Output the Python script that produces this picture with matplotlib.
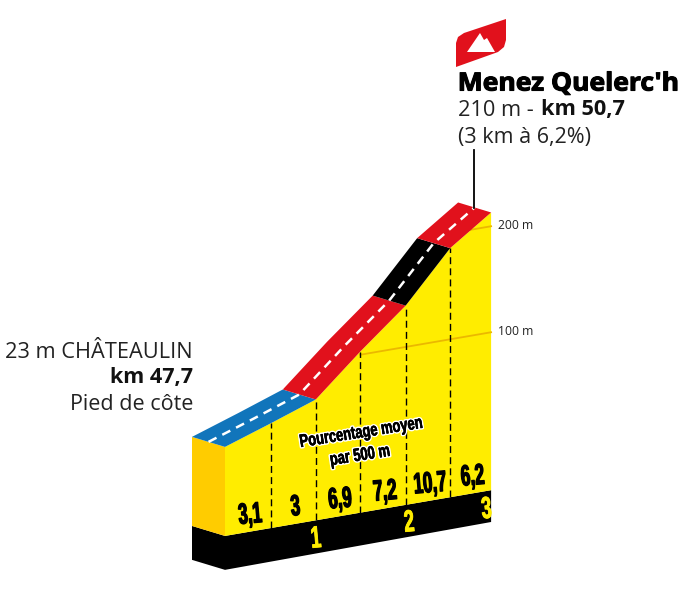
import matplotlib
matplotlib.use("Agg")
import matplotlib.pyplot as plt
import matplotlib.patheffects as pe
from matplotlib.patches import Polygon
from matplotlib.transforms import Affine2D
import numpy as np

# profile
km = [0, 0.52, 1.02, 1.52, 2.03, 2.53, 2.99]
elev = [35, 50, 65, 103, 139, 186, 213]
pct_labels = ["3,1", "3", "6,9", "7,2", "10,7", "6,2"]
km_marks = [1, 2, 3]
km_mark_pos = [1.02, 2.07, 2.94]
road_segments = [(0, 2, "#1175BB"), (2, 4, "#E1111C"), (4, 5, "#000000"), (5, 6, "#E1111C")]
alt_ticks = [100, 200]

YELLOW = "#FFED00"
BASE = -49
BOTTOM = -79
DEPTH = np.array([-33, -10])
BOLD = ["Liberation Sans", "DejaVu Sans"]
OPEN = ["Open Sans", "DejaVu Sans"]

# km/metres -> image pixels, slanted like the printed profile
proj = Affine2D.from_values(89, -15.3, 0, -1.06, 225, 484)


def pt(k, e):
    return proj.transform((k, e))


class Squeeze(pe.AbstractPathEffect):
    # no condensed font around, so narrow the glyphs of the text around their middle
    def __init__(self, sx, width=0, color=None):
        super().__init__()
        self.sx = sx
        self.width = width
        self.color = color

    def draw_path(self, renderer, gc, tpath, affine, rgbFace=None):
        ext = tpath.get_extents()
        cx = (ext.x0 + ext.x1) / 2
        narrow = Affine2D().translate(-cx, 0).scale(self.sx, 1).translate(cx, 0).transform_path(tpath)
        if self.width:
            gc0 = renderer.new_gc()
            gc0.copy_properties(gc)
            gc0.set_linewidth(self.width)
            gc0.set_foreground(self.color or rgbFace)
            renderer.draw_path(gc0, narrow, affine, rgbFace)
            gc0.restore()
        renderer.draw_path(gc, narrow, affine, rgbFace)


fig = plt.figure(figsize=(7, 5.9), dpi=100)
ax = fig.add_axes([0, 0, 1, 1])
ax.set_xlim(0, 700)
ax.set_ylim(590, 0)
ax.axis("off")

# black plinth
plinth = [pt(0, BASE) + DEPTH, pt(0, BASE), pt(km[-1], BASE), pt(km[-1], BOTTOM),
          pt(0, BOTTOM - 2), pt(0, BOTTOM - 2) + DEPTH]
plinth_patch = ax.add_patch(Polygon(plinth, fc="black", ec="none"))

# side face
side = [pt(0, elev[0]) + DEPTH, pt(0, elev[0]), pt(0, BASE), pt(0, BASE) + DEPTH]
ax.add_patch(Polygon(side, fc="#FFCC00", ec="none"))

# yellow front face
front = [pt(k, e) for k, e in zip(km, elev)] + [pt(km[-1], BASE), pt(0, BASE)]
ax.add_patch(Polygon(front, fc=YELLOW, ec="none"))

# altitude lines
for alt, start in zip(alt_ticks, [1.52, 2.75]):
    a, b = pt(start, alt), pt(km[-1], alt)
    ax.plot([a[0], b[0]], [a[1], b[1]], color="#EBB800", lw=1.3, zorder=2)
    ax.text(498, b[1] - 1, f"{alt} m", fontsize=8.7, family=OPEN, color="#222222", va="center")

# 500 m dashes
for k, e in zip(km[1:-1], elev[1:-1]):
    a, b = pt(k, BASE), pt(k, e)
    ax.plot([a[0], b[0]], [a[1], b[1]], color="black", lw=1, dashes=(5, 3), zorder=3)

# road
for i, j, col in road_segments:
    poly = [pt(k, e) for k, e in zip(km[i:j + 1], elev[i:j + 1])]
    poly += [p + DEPTH for p in poly[::-1]]
    ax.add_patch(Polygon(poly, fc=col, ec="none", zorder=4))
mid = np.array([pt(k, e) for k, e in zip(km, elev)]) + DEPTH / 2
ax.plot(mid[:, 0], mid[:, 1], color="white", lw=1.8, dashes=(3.6, 2.6), zorder=5)

# gradient numbers
for i, lab in enumerate(pct_labels):
    k = (km[i] + km[i + 1]) / 2
    x, y = pt(k, BASE + 16)
    ax.text(x + 2, y, lab, fontsize=21, family=BOLD, weight="bold", rotation=5,
            ha="center", va="center", color="black", zorder=6,
            path_effects=[Squeeze(0.58, 0.9)])

# km numbers on the plinth
for m, k in zip(km_marks, km_mark_pos):
    x, y = pt(k, BASE - 18)
    lab = ax.text(x, y, str(m), fontsize=22, family=BOLD, weight="bold", rotation=5,
                  ha="center", va="center", color=YELLOW, zorder=6,
                  path_effects=[Squeeze(0.6, 0.6)])
    lab.set_clip_path(plinth_patch)

for txt, x, y in [("Pourcentage moyen", 361, 433), ("par 500 m", 360, 456)]:
    ax.text(x, y, txt, fontsize=13, family=BOLD, weight="bold", rotation=9,
            ha="center", va="center", color="black", zorder=6,
            path_effects=[Squeeze(0.72, 2.4, "white"), Squeeze(0.72, 0.3)])

# start label
ax.text(193, 353, "23 m CHÂTEAULIN", fontsize=15.7, family=OPEN, ha="right", va="center", color="#222222")
ax.text(193, 378, "km 47,7", fontsize=15.5, family=OPEN, weight="bold", ha="right", va="center", color="#111111")
ax.text(193, 404, "Pied de côte", fontsize=15.5, family=OPEN, ha="right", va="center", color="#222222")

# summit pole, flag and label
ax.plot([474, 474], [150, 208], color="black", lw=1.3, zorder=7)
flag = [(456, 67), (456, 43), (458, 37), (464, 33), (506, 19), (506, 40), (504, 47), (498, 52)]
ax.add_patch(Polygon(flag, fc="#E1111C", ec="none"))
peak = [(467, 52), (480, 33), (484, 40), (487, 38), (495, 52)]
ax.add_patch(Polygon(peak, fc="white", ec="none"))
ax.text(464, 84, "Menez Quelerc'h", fontsize=18, family=OPEN, weight="bold", va="center", color="black",
        path_effects=[Squeeze(1.06, 0.8)])
t = ax.text(458, 110, "210 m - ", fontsize=15.7, family=OPEN, va="center", color="#222222")
ax.annotate("km 50,7", xy=(1, 0.5), xycoords=t, xytext=(1.5, 0), textcoords="offset points",
            fontsize=15.7, family=OPEN, weight="bold", va="center", color="#111111")
ax.text(458, 137, "(3 km à 6,2%)", fontsize=15.5, family=OPEN, va="center", color="#222222")

plt.savefig("out.png", dpi=100)
